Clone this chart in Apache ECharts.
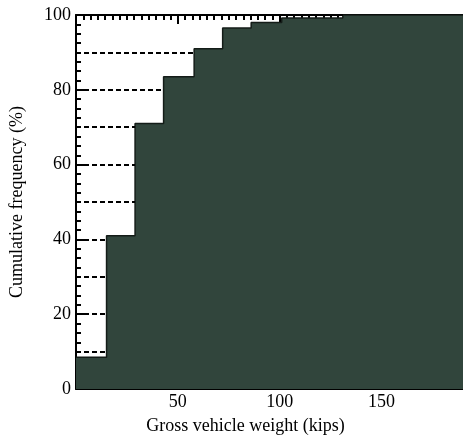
<!DOCTYPE html>
<html>
<head>
<meta charset="utf-8">
<script src="https://cdn.jsdelivr.net/npm/echarts@6/dist/echarts.min.js"></script>
<style>
  html, body { margin: 0; padding: 0; background: #fff; }
  #main { width: 463px; height: 440px; }
</style>
</head>
<body>
<div id="main"></div>
<script>
// left edge of each step (kips) and the cumulative frequency (%) it holds
const stepStart = [0, 15, 29, 43, 58, 72, 86, 101, 131, 190];
const cumFreq = [8.5, 41, 71, 83.5, 91, 96.5, 98, 99.2, 100, 100];
// dashed reference levels (%)
const refLevels = [10, 20, 30, 40, 50, 60, 70, 80, 90, 100];
const yTicks = [0, 20, 40, 60, 80, 100];

const serif = 'Liberation Serif';

const stepData = stepStart.map((x, i) => [x, cumFreq[i]]);

// each dashed line runs from the y axis to the step that first reaches its level
const refLines = refLevels.map((lvl) => {
  let idx = cumFreq.findIndex((v) => v >= lvl);
  return [{ coord: [0, lvl] }, { coord: [stepStart[idx], lvl] }];
});

const chart = echarts.init(document.getElementById('main'));
chart.setOption({
  animation: false,
  grid: { left: 75, right: 0, top: 15, bottom: 47 },
  xAxis: [
    {
      type: 'value',
      min: 0,
      max: 190,
      interval: 50,
      name: 'Gross vehicle weight (kips)',
      nameLocation: 'middle',
      nameGap: 28,
      nameTextStyle: { fontFamily: serif, fontSize: 18, color: '#000', padding: [0, 48, 0, 0] },
      axisLine: { show: true, lineStyle: { color: '#000', width: 2 } },
      axisTick: { show: false },
      splitLine: { show: false },
      axisLabel: {
        fontFamily: serif,
        fontSize: 18,
        color: '#000',
        margin: 4,
        showMinLabel: false,
        showMaxLabel: false
      }
    },
    {
      type: 'value',
      position: 'top',
      min: 0,
      max: 190,
      interval: 50,
      axisLine: { show: true, lineStyle: { color: '#000', width: 2 } },
      axisTick: { show: true, inside: true, length: 9, lineStyle: { color: '#000', width: 2 } },
      minorTick: { show: true, splitNumber: 14, length: 5, lineStyle: { color: '#000', width: 2 } },
      axisLabel: { show: false },
      splitLine: { show: false }
    }
  ],
  yAxis: {
    type: 'value',
    min: 0,
    max: 100,
    interval: 20,
    name: 'Cumulative frequency (%)',
    nameLocation: 'middle',
    nameGap: 50,
    nameTextStyle: { fontFamily: serif, fontSize: 18, color: '#000' },
    axisLine: { show: true, lineStyle: { color: '#000', width: 2 } },
    axisTick: { show: true, inside: true, length: 9, lineStyle: { color: '#000', width: 2 } },
    minorTick: { show: true, splitNumber: 8, length: 5, lineStyle: { color: '#000', width: 2 } },
    splitLine: { show: false },
    axisLabel: {
      fontFamily: serif,
      fontSize: 18,
      color: '#000',
      margin: 5,
      formatter: (v) => (yTicks.includes(v) ? String(v) : '')
    }
  },
  series: [
    {
      type: 'line',
      step: 'end',
      data: stepData,
      symbol: 'none',
      lineStyle: { color: '#141c18', width: 1.5 },
      areaStyle: { color: '#31453c', opacity: 1 },
      markLine: {
        silent: true,
        symbol: ['none', 'none'],
        label: { show: false },
        lineStyle: { color: '#000', width: 2, type: [5, 3] },
        data: refLines
      }
    }
  ]
});
</script>
</body>
</html>
